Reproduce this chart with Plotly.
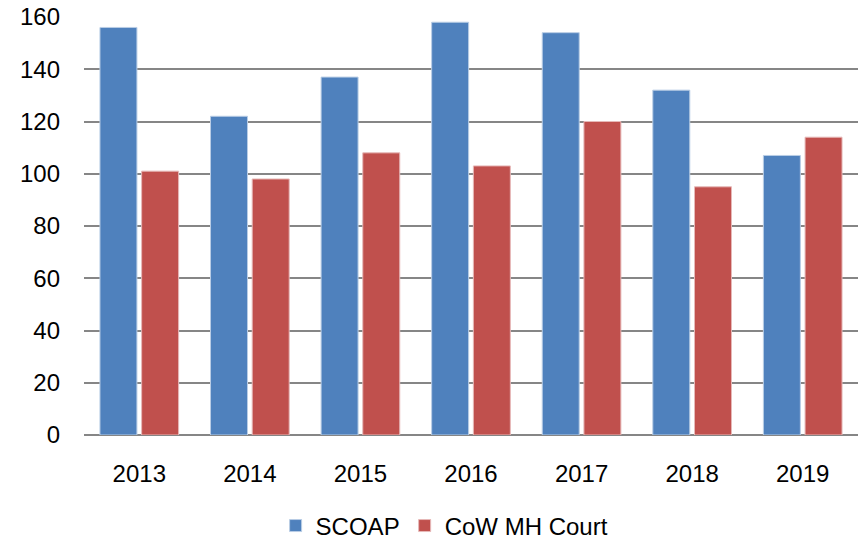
import plotly.graph_objects as go

years = ["2013", "2014", "2015", "2016", "2017", "2018", "2019"]
scoap = [156, 122, 137, 158, 154, 132, 107]
cow_mh_court = [101, 98, 108, 103, 120, 95, 114]

font_family = "Liberation Sans, Arial, sans-serif"

fig = go.Figure()
fig.add_trace(go.Bar(name="SCOAP", x=years, y=scoap,
                     marker=dict(color="#4F81BD", line=dict(color="#B9CDE5", width=1))))
fig.add_trace(go.Bar(name="CoW MH Court", x=years, y=cow_mh_court,
                     marker=dict(color="#C0504D", line=dict(color="#E6B9B8", width=1))))

fig.update_layout(
    width=865, height=540,
    margin=dict(l=84, r=7, t=17, b=105),
    paper_bgcolor="white", plot_bgcolor="white",
    barmode="group", bargap=0.246, bargroupgap=0.113,
    font=dict(family=font_family, size=24, color="black"),
    showlegend=True,
    legend=dict(orientation="h", xref="container", yref="container",
                x=0.514, xanchor="center", y=0.026, yanchor="middle",
                font=dict(size=24)),
    xaxis=dict(showgrid=False, showline=False, ticks="", tickfont=dict(size=24),
               ticklabelstandoff=22, automargin=False),
    yaxis=dict(range=[0, 160], dtick=20, showgrid=True, gridcolor="#868686", gridwidth=2,
               zeroline=True, zerolinecolor="#868686", zerolinewidth=2,
               showline=False, ticks="", tickfont=dict(size=24), ticklabelstandoff=23,
               automargin=False),
)

fig.write_html("out.html", config={"displayModeBar": False},
               post_script="document.body.style.margin='0';")
